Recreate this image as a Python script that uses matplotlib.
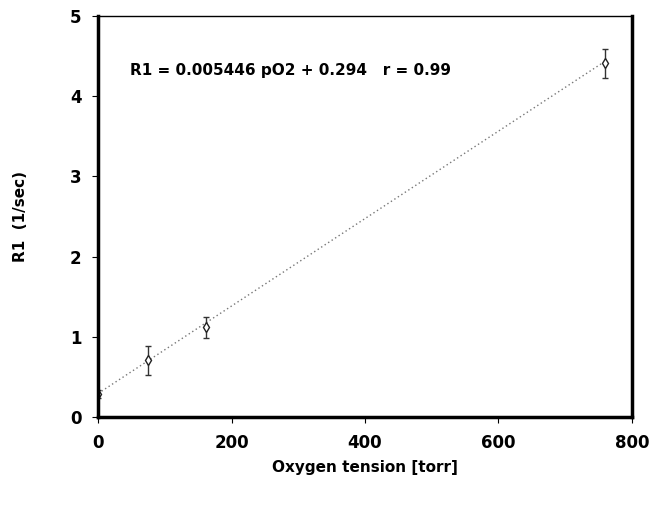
import matplotlib
matplotlib.use("Agg")
import matplotlib.pyplot as plt
import numpy as np

po2 = [0, 75, 162, 760]
r1 = [0.29, 0.71, 1.12, 4.41]
r1_err = [0.05, 0.18, 0.13, 0.18]
slope = 0.005446
intercept = 0.294
xticks = [0, 200, 400, 600, 800]
yticks = [0, 1, 2, 3, 4, 5]

fig = plt.figure(figsize=(6.54, 5.08), dpi=100)
ax = fig.add_axes([0.150, 0.179, 0.816, 0.790])

xf = np.array([0, 760])
ax.plot(xf, slope * xf + intercept, linestyle=(0, (1, 2)), color="#777777", linewidth=1.0)
ax.errorbar(po2, r1, yerr=r1_err, fmt="d", mfc="white", mec="#222222", ms=5,
            ecolor="#333333", elinewidth=1.0, capsize=2, capthick=1.0)

ax.set_xlim(0, 800)
ax.set_ylim(0, 5)
ax.set_xticks(xticks)
ax.set_yticks(yticks)
ax.tick_params(direction="out", length=4, width=0.8, labelsize=12)
ax.tick_params(axis="x", pad=8)
ax.tick_params(axis="y", pad=8)
for lbl in ax.get_xticklabels() + ax.get_yticklabels():
    lbl.set_fontweight("bold")

for side in ["left", "bottom", "right"]:
    ax.spines[side].set_linewidth(2.5)
ax.spines["top"].set_linewidth(1.0)

ax.text(48, 4.26, "R1 = 0.005446 pO2 + 0.294   r = 0.99", fontsize=11, fontweight="bold")
ax.set_xlabel("Oxygen tension [torr]", fontsize=11, fontweight="bold", labelpad=6)
ax.set_ylabel("R1  (1/sec)", fontsize=11, fontweight="bold", labelpad=30)

fig.savefig("out.png", dpi=100)
